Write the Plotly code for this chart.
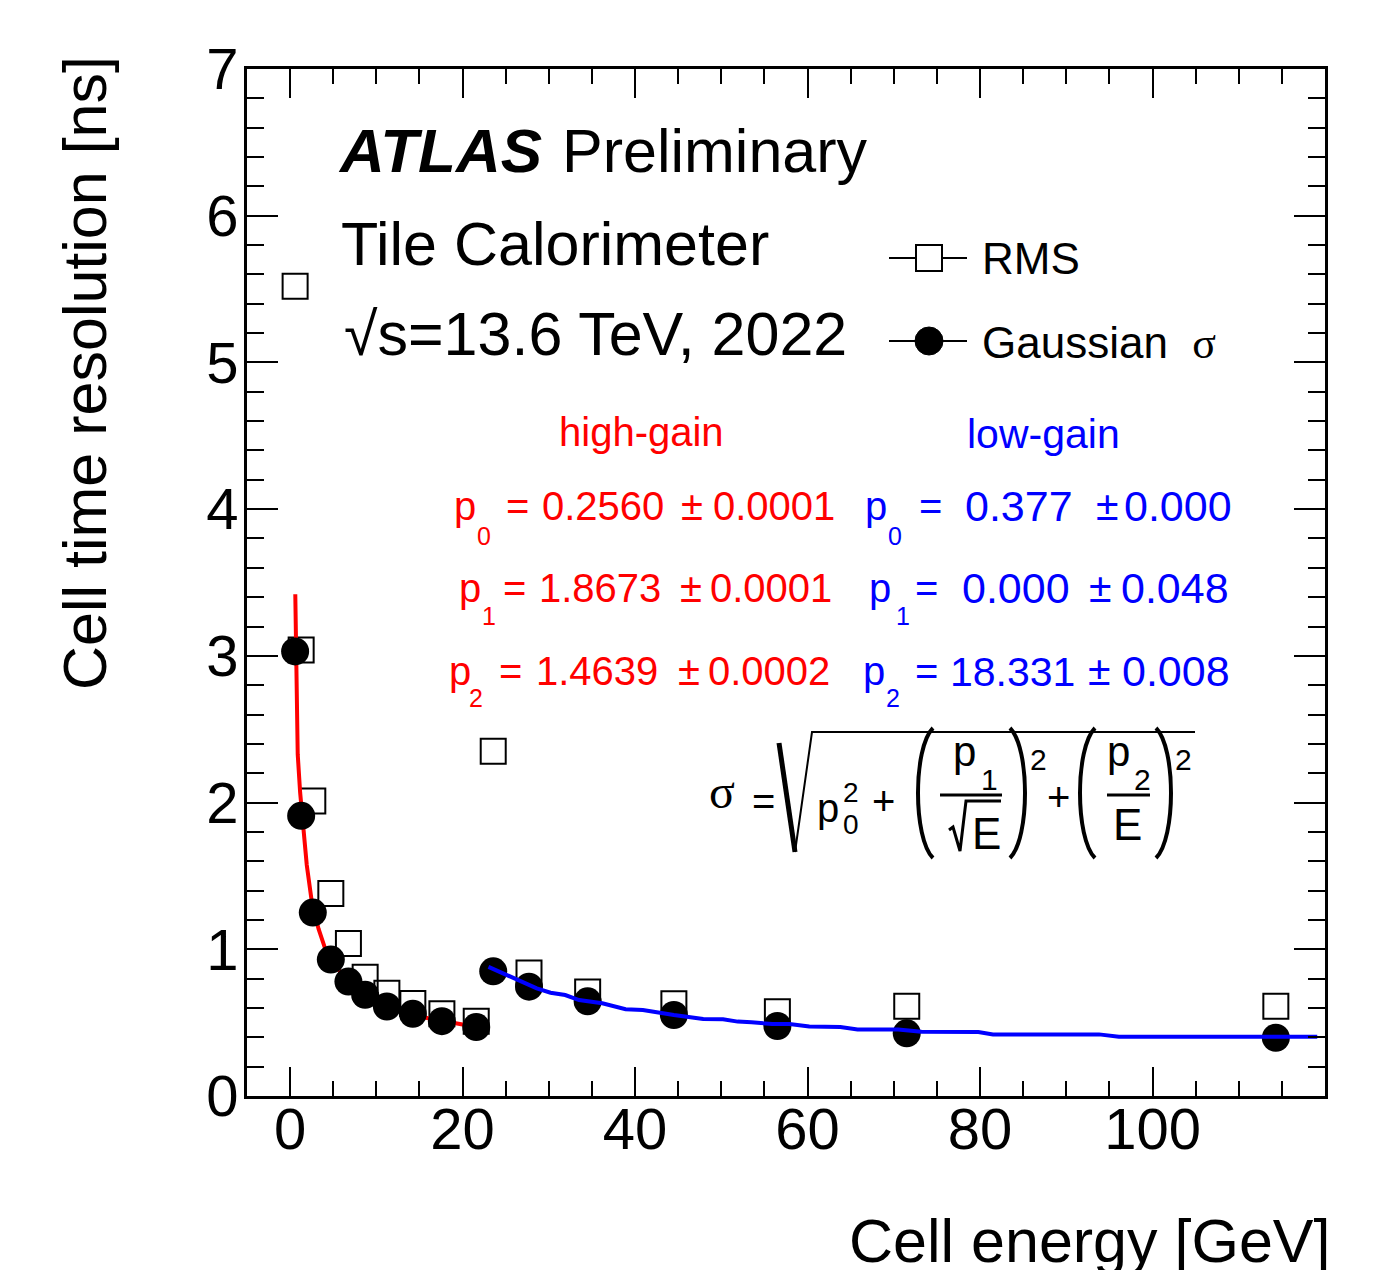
import plotly.graph_objects as go

# ---------------- data ----------------
energy_hg = [0.58, 1.28, 2.63, 4.72, 6.76, 8.70, 11.22, 14.23, 17.60, 21.58]
gauss_hg = [3.03, 1.91, 1.25, 0.93, 0.78, 0.69, 0.61, 0.56, 0.51, 0.47]
rms_hg = [5.52, 3.04, 2.01, 1.38, 1.04, 0.81, 0.70, 0.63, 0.56, 0.51]

energy_lg = [23.55, 27.7, 34.5, 44.5, 56.5, 71.5, 114.3]
gauss_lg = [0.85, 0.745, 0.645, 0.552, 0.477, 0.427, 0.397]
rms_lg = [2.35, 0.838, 0.709, 0.629, 0.575, 0.611, 0.611]

# fitted curves as drawn (vertices)
fit_hg_x = [0.60, 0.75, 0.88, 1.16, 1.55, 1.93, 2.51, 3.29, 4.06, 4.83,
            6.77, 8.70, 11.0, 12.8, 16.0, 19.5, 21.6]
fit_hg_y = [3.42, 2.90, 2.33, 2.07, 1.83, 1.575, 1.325, 1.14, 1.005, 0.915,
            0.78, 0.69, 0.62, 0.575, 0.53, 0.49, 0.47]
fit_lg_x = [23.0, 25.2, 28.6, 30.2, 31.9, 33.5, 36.2, 38.9, 40.9, 44.5, 47.9,
            50.2, 51.9, 53.5, 55.9, 57.9, 60.2, 63.8, 65.8, 70.5, 73.2, 79.8,
            81.5, 93.8, 96.1, 119.1]
fit_lg_y = [0.88, 0.825, 0.734, 0.704, 0.688, 0.654, 0.632, 0.591, 0.586,
            0.552, 0.525, 0.523, 0.507, 0.502, 0.491, 0.491, 0.473, 0.470,
            0.454, 0.454, 0.438, 0.436, 0.420, 0.420, 0.404, 0.404]

x_ticks = [0, 20, 40, 60, 80, 100]
y_ticks = [0, 1, 2, 3, 4, 5, 6, 7]

hg_names = ["0", "1", "2"]
hg_vals = ["0.2560", "1.8673", "1.4639"]
hg_errs = ["0.0001", "0.0001", "0.0002"]
lg_vals = ["0.377", "0.000", "18.331"]
lg_errs = ["0.000", "0.048", "0.008"]

# ---------------- geometry helpers ----------------
OFF = 8                      # default <body> margin of the html page
PAGE_W, PAGE_H = 1394, 1270
W, H = PAGE_W - OFF, PAGE_H - OFF
# plot-area edges in page pixels
L, R, T, B = 247, 1325, 69, 1096
SANS = "Liberation Sans, Arial, Helvetica, sans-serif"
SERIF = "Liberation Serif, Times New Roman, serif"


def px(x):
    return (x - L) / (R - L)


def py(y):
    return (B - y) / (B - T)


annotations = []


def txt(s, x, base, size, color="black", xanchor="left", family=SANS):
    annotations.append(dict(
        text=s, x=px(x), y=py(base - 0.3465 * size), xref="paper", yref="paper",
        xanchor=xanchor, yanchor="middle", showarrow=False, borderpad=0,
        font=dict(size=size, color=color, family=family)))


shapes = []


def path(pts, width=3, color="black"):
    d = "M " + " L ".join(f"{px(a):.5f},{py(b):.5f}" for a, b in pts)
    shapes.append(dict(type="path", path=d, xref="paper", yref="paper",
                       line=dict(color=color, width=width),
                       fillcolor="rgba(0,0,0,0)"))


def curve(p0, c1, c2, p1, width=4):
    d = (f"M {px(p0[0]):.5f},{py(p0[1]):.5f} C {px(c1[0]):.5f},{py(c1[1]):.5f} "
         f"{px(c2[0]):.5f},{py(c2[1]):.5f} {px(p1[0]):.5f},{py(p1[1]):.5f}")
    shapes.append(dict(type="path", path=d, xref="paper", yref="paper",
                       line=dict(color="black", width=width)))


# ---------------- traces ----------------
fig = go.Figure()
fig.add_trace(go.Scatter(
    x=energy_hg + energy_lg, y=rms_hg + rms_lg, mode="markers", name="RMS",
    marker=dict(symbol="square-open", size=25, color="black",
                line=dict(color="black", width=2))))
fig.add_trace(go.Scatter(
    x=fit_hg_x, y=fit_hg_y, mode="lines", name="high-gain fit",
    line=dict(color="#ff0000", width=4)))
fig.add_trace(go.Scatter(
    x=energy_hg + energy_lg, y=gauss_hg + gauss_lg, mode="markers",
    name="Gaussian σ",
    marker=dict(symbol="circle", size=28, color="black", line=dict(width=0))))
fig.add_trace(go.Scatter(
    x=fit_lg_x, y=fit_lg_y, mode="lines", name="low-gain fit",
    line=dict(color="#0000ff", width=4)))

# ---------------- texts ----------------
txt("<b><i>ATLAS</i></b>", 337, 172, 62)
txt("Preliminary", 561, 172, 61)
txt("Tile Calorimeter", 340, 265, 61)
txt("√s=13.6 TeV, 2022", 343, 355, 61)

# legend (custom keys)
shapes.append(dict(type="line", xref="paper", yref="paper", x0=px(889), x1=px(967),
                   y0=py(258), y1=py(258), line=dict(color="black", width=2)))
shapes.append(dict(type="rect", xref="paper", yref="paper", x0=px(916), x1=px(942),
                   y0=py(245), y1=py(271), line=dict(color="black", width=2),
                   fillcolor="white"))
shapes.append(dict(type="line", xref="paper", yref="paper", x0=px(889), x1=px(967),
                   y0=py(341), y1=py(341), line=dict(color="black", width=2)))
shapes.append(dict(type="circle", xref="paper", yref="paper", x0=px(915), x1=px(943),
                   y0=py(327), y1=py(355), line=dict(color="black", width=1),
                   fillcolor="black"))
txt("RMS", 981, 274, 44)
txt("Gaussian  <span style='font-family:Liberation Serif'>σ</span>", 981, 358, 44)

# fit parameters
RED, BLUE = "#ff0000", "#0000ff"
txt("high-gain", 558, 446, 40, RED)
txt("low-gain", 966, 448, 41, BLUE)

row_base = [520, 602, 685]
sub_base = [545, 625, 707]
hg_p = [453, 458, 448]
hg_sub = [476, 481, 468]
hg_eq = [505, 502, 498]
hg_v = [541, 538, 535]
hg_pm = [680, 679, 677]
hg_e = [712, 709, 707]
lg_p = [864, 868, 862]
lg_sub = [887, 895, 885]
lg_eq = [918, 914, 914]
lg_v = [964, 961, 949]
lg_vsize = [43, 43, 41]
lg_pm = [1095, 1088, 1087]
lg_e = [1123, 1120, 1121]
for i in range(3):
    b, sb = row_base[i], sub_base[i]
    txt("p", hg_p[i], b, 40, RED)
    txt(hg_names[i], hg_sub[i], sb, 25, RED)
    txt("=", hg_eq[i], b, 40, RED)
    txt(hg_vals[i], hg_v[i], b, 40, RED)
    txt("±", hg_pm[i], b, 40, RED)
    txt(hg_errs[i], hg_e[i], b, 40, RED)
    txt("p", lg_p[i], b, 40, BLUE)
    txt(hg_names[i], lg_sub[i], sb, 25, BLUE)
    txt("=", lg_eq[i], b, 40, BLUE)
    txt(lg_vals[i], lg_v[i], b + 1, lg_vsize[i], BLUE)
    txt("±", lg_pm[i], b, 41, BLUE)
    txt(lg_errs[i], lg_e[i], b + 1, 43, BLUE)

# formula  sigma = sqrt(p0^2 + (p1/sqrt(E))^2 + (p2/E)^2)
txt("σ", 722, 808, 48, family=SERIF, xanchor="center")
txt("=", 763, 815, 40, xanchor="center")
path([(779, 743), (795, 852)], width=5)
path([(795, 852), (812, 732), (1195, 732)], width=2)
txt("p", 816, 822, 40)
txt("2", 842, 802, 28)
txt("0", 842, 834, 28)
txt("+", 883, 815, 40, xanchor="center")
curve((933, 728), (913, 748), (913, 838), (933, 858))
txt("p", 952, 766, 42)
txt("1", 980, 790, 30)
path([(940, 795), (1002, 795)], width=3)
path([(949, 830), (953, 827), (960, 851), (966, 801), (1001, 801)], width=3)
txt("E", 971, 849, 44)
curve((1010, 728), (1030, 748), (1030, 838), (1010, 858))
txt("2", 1029, 770, 30)
txt("+", 1058, 811, 40, xanchor="center")
curve((1095, 728), (1075, 748), (1075, 838), (1095, 858))
txt("p", 1106, 766, 42)
txt("2", 1133, 790, 30)
path([(1107, 795), (1150, 795)], width=3)
txt("E", 1112, 840, 44)
curve((1156, 728), (1176, 748), (1176, 838), (1156, 858))
txt("2", 1174, 770, 30)

# axis titles
txt("Cell energy [GeV]", 1331, 1262, 61, xanchor="right")
annotations.append(dict(
    text="Cell time resolution [ns]", x=px(85), y=py(55), xref="paper", yref="paper",
    xanchor="center", yanchor="top", textangle=-90, showarrow=False, borderpad=0,
    font=dict(size=61, color="black", family=SANS)))

# ---------------- layout ----------------
axis_common = dict(showgrid=False, zeroline=False, showline=True, linecolor="black",
                   linewidth=3, mirror="ticks", ticks="inside", tickcolor="black",
                   tickwidth=2, tickfont=dict(size=58, color="black", family=SANS))
fig.update_layout(
    width=W, height=H, showlegend=False,
    margin=dict(l=L - OFF, r=PAGE_W - R, t=T - OFF, b=PAGE_H - B, pad=0),
    paper_bgcolor="white", plot_bgcolor="white",
    xaxis=dict(range=[-5, 120], tickmode="array", tickvals=x_ticks,
               ticktext=[str(v) for v in x_ticks], ticklen=29,
               ticklabelstandoff=-20,
               minor=dict(dtick=5, tick0=0, ticks="inside", ticklen=15,
                          tickwidth=2, tickcolor="black", showgrid=False),
               **axis_common),
    yaxis=dict(range=[0, 7], tickmode="array", tickvals=y_ticks,
               ticktext=[str(v) for v in y_ticks], ticklen=31,
               ticklabelstandoff=-6,
               minor=dict(dtick=0.2, tick0=0, ticks="inside", ticklen=17,
                          tickwidth=2, tickcolor="black", showgrid=False),
               **axis_common),
    annotations=annotations, shapes=shapes,
)

fig.write_html("out.html")
